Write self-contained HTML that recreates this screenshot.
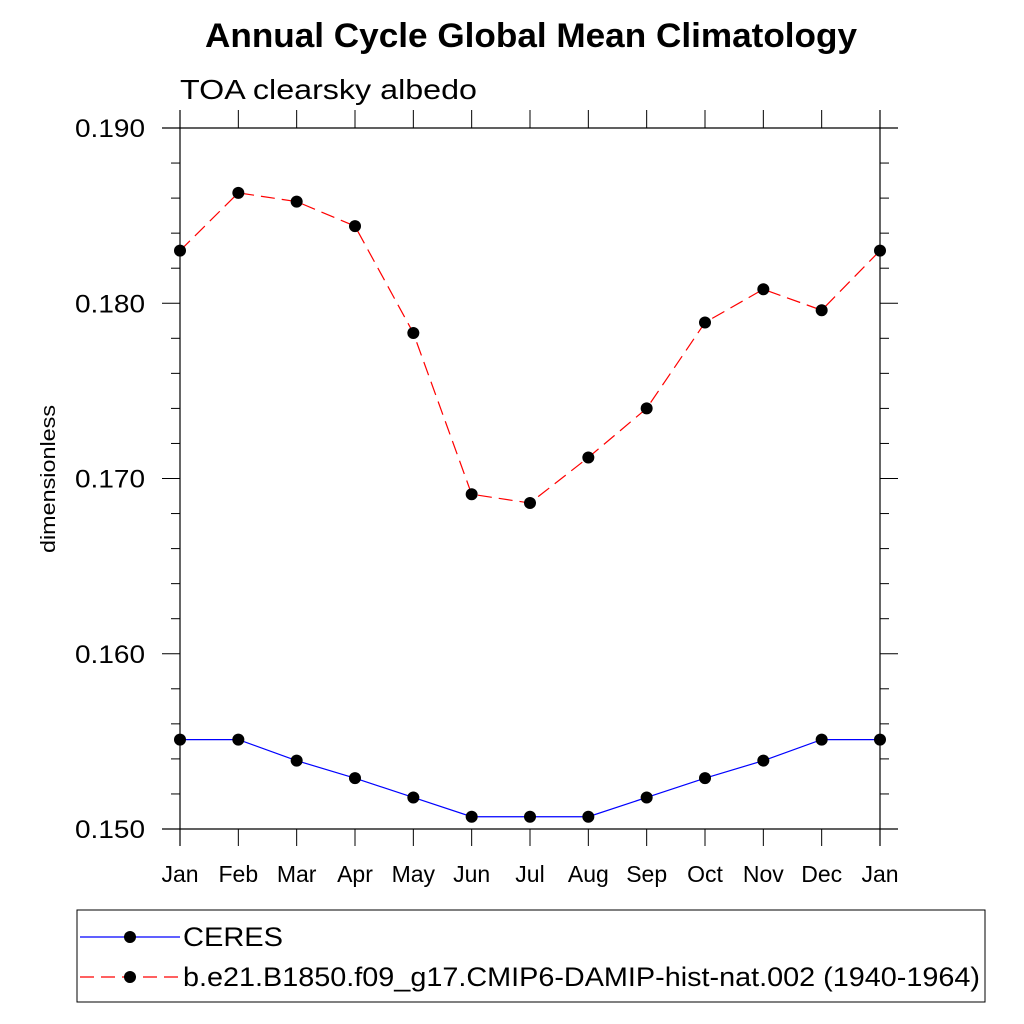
<!DOCTYPE html>
<html><head><meta charset="utf-8"><style>body{margin:0;background:#fff}svg{display:block;font-family:"Liberation Sans",sans-serif}</style></head>
<body>
<svg id="c" width="1024" height="1024" viewBox="0 0 1024 1024">
<text x="531" y="47" text-anchor="middle" font-size="34" font-weight="bold" textLength="652" lengthAdjust="spacingAndGlyphs">Annual Cycle Global Mean Climatology</text>
<text x="180" y="99" font-size="28" textLength="297" lengthAdjust="spacingAndGlyphs">TOA clearsky albedo</text>
<text transform="translate(55,479) rotate(-90)" text-anchor="middle" font-size="20" textLength="148" lengthAdjust="spacingAndGlyphs">dimensionless</text>
<g id="axes"></g>
<g id="series"></g>
<rect x="77" y="910" width="908" height="92" fill="none" stroke="#000" stroke-width="1"/>
<g>
<line x1="80" y1="937" x2="180" y2="937" stroke="#00f" stroke-width="1.2"/><circle cx="130" cy="937" r="6" fill="#000"/>
<text x="183" y="946" font-size="27" textLength="100" lengthAdjust="spacingAndGlyphs">CERES</text></g>
<g>
<line x1="80" y1="977" x2="180" y2="977" stroke="#f00" stroke-width="1.2" stroke-dasharray="14,7"/><circle cx="130" cy="977" r="6" fill="#000"/>
<text x="183" y="986" font-size="27" textLength="797" lengthAdjust="spacingAndGlyphs">b.e21.B1850.f09_g17.CMIP6-DAMIP-hist-nat.002 (1940-1964)</text></g>
</svg>
<script>
const months=["Jan","Feb","Mar","Apr","May","Jun","Jul","Aug","Sep","Oct","Nov","Dec","Jan"];
const ceres=[0.1551,0.1551,0.1539,0.1529,0.1518,0.1507,0.1507,0.1507,0.1518,0.1529,0.1539,0.1551,0.1551];
const model=[0.1830,0.1863,0.1858,0.1844,0.1783,0.1691,0.1686,0.1712,0.1740,0.1789,0.1808,0.1796,0.1830];
const yTicks=["0.150","0.160","0.170","0.180","0.190"];
const NS="http://www.w3.org/2000/svg";
const X0=180,X1=880,Y0=829,Y1=128,YMIN=0.15,YMAX=0.19;
function xs(i){return X0+i*(X1-X0)/(months.length-1);}
function ys(v){return Y0-(v-YMIN)/(YMAX-YMIN)*(Y0-Y1);}
function mk(tag,at,parent){const e=document.createElementNS(NS,tag);for(const k in at)e.setAttribute(k,at[k]);parent.appendChild(e);return e;}
const ax=document.getElementById('axes');
let l;
l=mk('line',{x1:162,y1:Y1,x2:898,y2:Y1,stroke:'#000','stroke-width':1.2},ax);

l=mk('line',{x1:162,y1:Y0,x2:898,y2:Y0,stroke:'#000','stroke-width':1.2},ax);

l=mk('line',{x1:X0,y1:110,x2:X0,y2:846,stroke:'#000','stroke-width':1.2},ax);

l=mk('line',{x1:X1,y1:110,x2:X1,y2:846,stroke:'#000','stroke-width':1.2},ax);

months.forEach((m,i)=>{const x=xs(i);
 mk('line',{x1:x,y1:Y0,x2:x,y2:846,stroke:'#000'},ax);
 mk('line',{x1:x,y1:Y1,x2:x,y2:110,stroke:'#000'},ax);
 const t=mk('text',{x:x,y:882,'text-anchor':'middle','font-size':23},ax);t.textContent=m;
 
 
});
for(let k=0;k<=20;k++){const v=YMIN+k*0.002,y=ys(v),maj=k%5==0;
 mk('line',{x1:maj?162:171,y1:y,x2:X0,y2:y,stroke:'#000'},ax);
 mk('line',{x1:X1,y1:y,x2:maj?898:889,y2:y,stroke:'#000'},ax);
}
yTicks.forEach(s=>{const y=ys(parseFloat(s));
 const t=mk('text',{x:145,y:y+9,'text-anchor':'end','font-size':25,textLength:70,lengthAdjust:'spacingAndGlyphs'},ax);t.textContent=s;
 
 
});
const sg=document.getElementById('series');
function draw(vals,color,dash,name){
 const p=mk('polyline',{points:vals.map((v,i)=>xs(i)+','+ys(v)).join(' '),fill:'none',stroke:color,'stroke-width':1.2,'stroke-dasharray':dash},sg);
 
 
 vals.forEach((v,i)=>{const c=mk('circle',{cx:xs(i),cy:ys(v),r:6,fill:'#000'},sg);
  
  });
}
draw(model,'#f00','14,7','model');
draw(ceres,'#00f','none','ceres');
</script>
</body></html>
